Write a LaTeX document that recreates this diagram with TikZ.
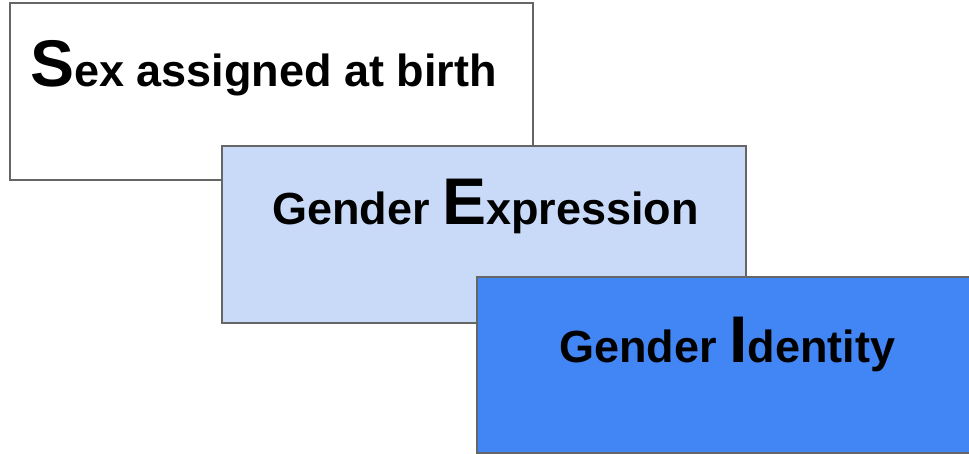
\documentclass[tikz,border=0pt]{standalone}
\usepackage{fontspec}
\setmainfont{Liberation Sans}
\definecolor{edgegray}{HTML}{666666}
\definecolor{lightblue}{HTML}{C9DAF8}
\definecolor{gblue}{HTML}{4285F4}
\tikzset{
  panel/.style={draw=edgegray, line width=1.5pt, inner sep=0pt, outer sep=0pt, anchor=north west},
  label/.style={anchor=base west, inner sep=0pt, font=\bfseries\fontsize{45}{54}\selectfont},
}
\newcommand{\biginitial}[1]{{\fontsize{66}{70}\selectfont #1}}
\begin{document}
\begin{tikzpicture}[x=1pt,y=-1pt]
\useasboundingbox (0,0) rectangle (969,454);
\node[panel, fill=white, minimum width=523pt, minimum height=177pt] (sexbox) at (10,3) {};
\node[panel, fill=lightblue, minimum width=524pt, minimum height=177pt] (exprbox) at (222,146) {};
\node[panel, fill=gblue, minimum width=500pt, minimum height=176pt] (identbox) at (477,277) {};
\node[label] (sextext) at (30,87) {\biginitial{S}ex assigned at birth};
\node[label] (exprtext) at (272,225) {Gender \biginitial{E}xpression};
\node[label] (identtext) at (559,362) {Gender \biginitial{I}dentity};
\end{tikzpicture}
\end{document}
